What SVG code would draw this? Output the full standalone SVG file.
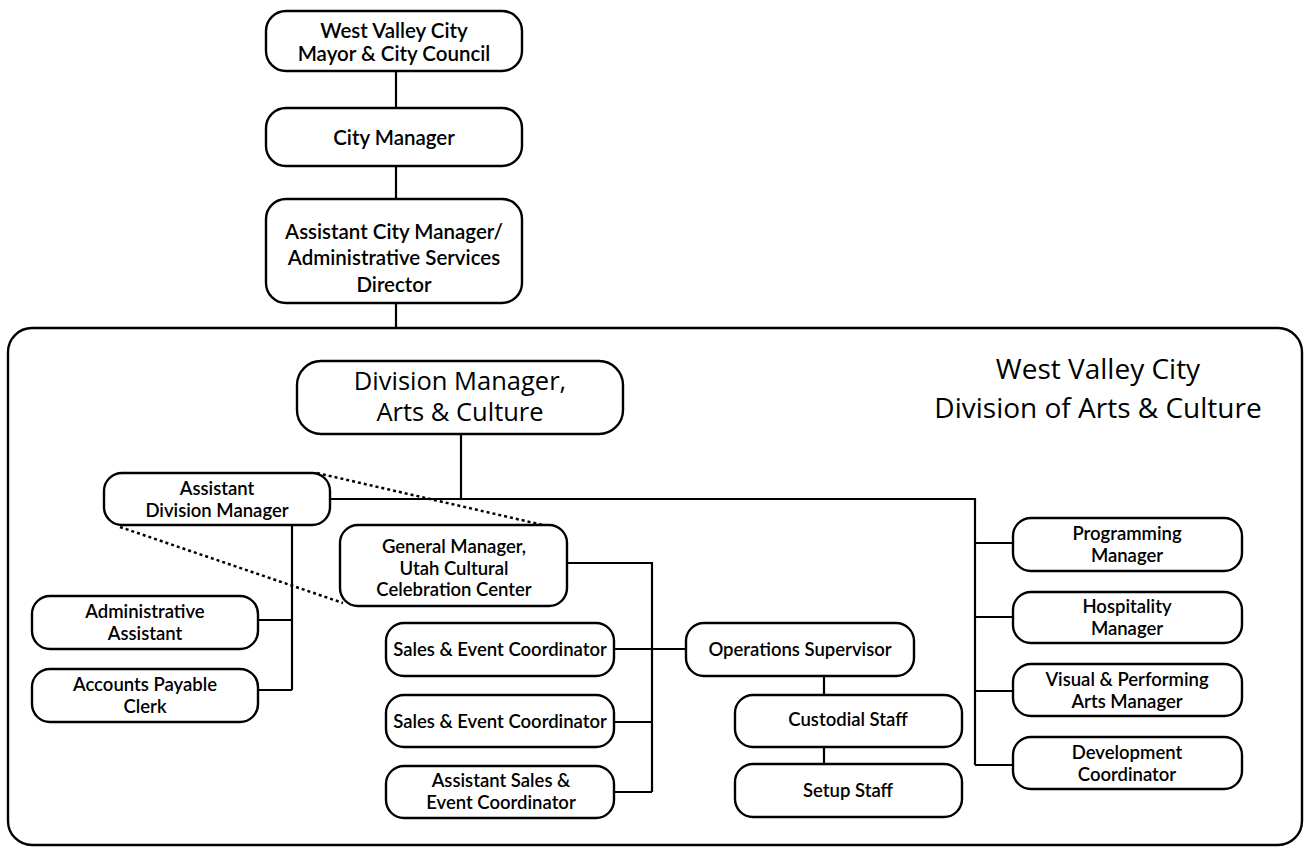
<svg xmlns="http://www.w3.org/2000/svg" width="1306" height="850" viewBox="0 0 1306 850">
<style>
.b{fill:#fff;stroke:#000;stroke-width:2.4}
.c{fill:none;stroke:#000;stroke-width:2.2}
.d{fill:none;stroke:#000;stroke-width:2.5;stroke-dasharray:3 3}
text{font-family:Lato,"Open Sans","Liberation Sans",sans-serif;fill:#000;text-anchor:middle}
.t{font-size:20.5px;font-weight:600}
.s{font-size:18.5px;font-weight:600}
.l{font-family:"Open Sans",Lato,"Liberation Sans",sans-serif;font-size:25.5px}
.h{font-family:"Open Sans",Lato,"Liberation Sans",sans-serif;font-size:28px}
</style>
<rect x="0" y="0" width="1306" height="850" fill="#fff"/>
<g id="container"><rect x="8" y="328" width="1294" height="517" rx="24" fill="none" stroke="#000" stroke-width="2.4"/></g>
<g id="connectors">
<path class="c" d="M396 71V108M396 166V199M396 303V328"/>
<path class="c" d="M461 434V499M330 499H975V765M975 543H1013M975 617H1013M975 691H1013M975 765H1013"/>
<path class="c" d="M292 525V690M258 620H292M258 690H292"/>
<path class="c" d="M567 563H652V792M614 722H652M614 792H652M614 649H686"/>
<path class="c" d="M824 676V695M824 747V764"/>
<path class="d" d="M317 473L543 525M120 527L343 603"/>
</g>
<g id="mayor"><rect class="b" x="266" y="11" width="256" height="60" rx="20"/><text class="t" x="394" y="38">West Valley City</text><text class="t" x="394" y="61">Mayor &amp; City Council</text></g>
<g id="city-manager"><rect class="b" x="266" y="108" width="256" height="58" rx="20"/><text class="t" x="394" y="145">City Manager</text></g>
<g id="asst-city-manager"><rect class="b" x="266" y="199" width="256" height="104" rx="20"/><text class="t" x="394" y="239">Assistant City Manager/</text><text class="t" x="394" y="265">Administrative Services</text><text class="t" x="394" y="292">Director</text></g>
<g id="title"><text class="h" x="1098" y="379">West Valley City</text><text class="h" x="1098" y="418">Division of Arts &amp; Culture</text></g>
<g id="division-manager"><rect class="b" x="297" y="361" width="326" height="73" rx="24"/><text class="l" x="460" y="390">Division Manager,</text><text class="l" x="460" y="421">Arts &amp; Culture</text></g>
<g id="asst-division-manager"><rect class="b" x="104" y="473" width="226" height="52" rx="18"/><text class="s" x="217" y="495">Assistant</text><text class="s" x="217" y="517">Division Manager</text></g>
<g id="admin-assistant"><rect class="b" x="32" y="596" width="226" height="53" rx="18"/><text class="s" x="145" y="618">Administrative</text><text class="s" x="145" y="640">Assistant</text></g>
<g id="ap-clerk"><rect class="b" x="32" y="669" width="226" height="53" rx="18"/><text class="s" x="145" y="691">Accounts Payable</text><text class="s" x="145" y="713">Clerk</text></g>
<g id="general-manager"><rect class="b" x="340" y="525" width="227" height="81" rx="18"/><text class="s" x="454" y="553">General Manager,</text><text class="s" x="454" y="575">Utah Cultural</text><text class="s" x="454" y="596">Celebration Center</text></g>
<g id="sales1"><rect class="b" x="386" y="623" width="228" height="53" rx="18"/><text class="s" x="500" y="656">Sales &amp; Event Coordinator</text></g>
<g id="sales2"><rect class="b" x="386" y="695" width="228" height="52" rx="18"/><text class="s" x="500" y="728">Sales &amp; Event Coordinator</text></g>
<g id="asst-sales"><rect class="b" x="386" y="766" width="228" height="52" rx="18"/><text class="s" x="501" y="787">Assistant Sales &amp;</text><text class="s" x="501" y="809">Event Coordinator</text></g>
<g id="operations-supervisor"><rect class="b" x="686" y="623" width="228" height="53" rx="18"/><text class="s" x="800" y="656">Operations Supervisor</text></g>
<g id="custodial"><rect class="b" x="735" y="695" width="227" height="52" rx="18"/><text class="s" x="848" y="726">Custodial Staff</text></g>
<g id="setup"><rect class="b" x="735" y="764" width="227" height="53" rx="18"/><text class="s" x="848" y="797">Setup Staff</text></g>
<g id="programming"><rect class="b" x="1013" y="518" width="229" height="53" rx="18"/><text class="s" x="1127" y="540">Programming</text><text class="s" x="1127" y="562">Manager</text></g>
<g id="hospitality"><rect class="b" x="1013" y="592" width="229" height="51" rx="18"/><text class="s" x="1127" y="613">Hospitality</text><text class="s" x="1127" y="635">Manager</text></g>
<g id="visual-performing"><rect class="b" x="1013" y="664" width="229" height="52" rx="18"/><text class="s" x="1127" y="686">Visual &amp; Performing</text><text class="s" x="1127" y="708">Arts Manager</text></g>
<g id="development"><rect class="b" x="1013" y="737" width="229" height="52" rx="18"/><text class="s" x="1127" y="759">Development</text><text class="s" x="1127" y="781">Coordinator</text></g>
</svg>
